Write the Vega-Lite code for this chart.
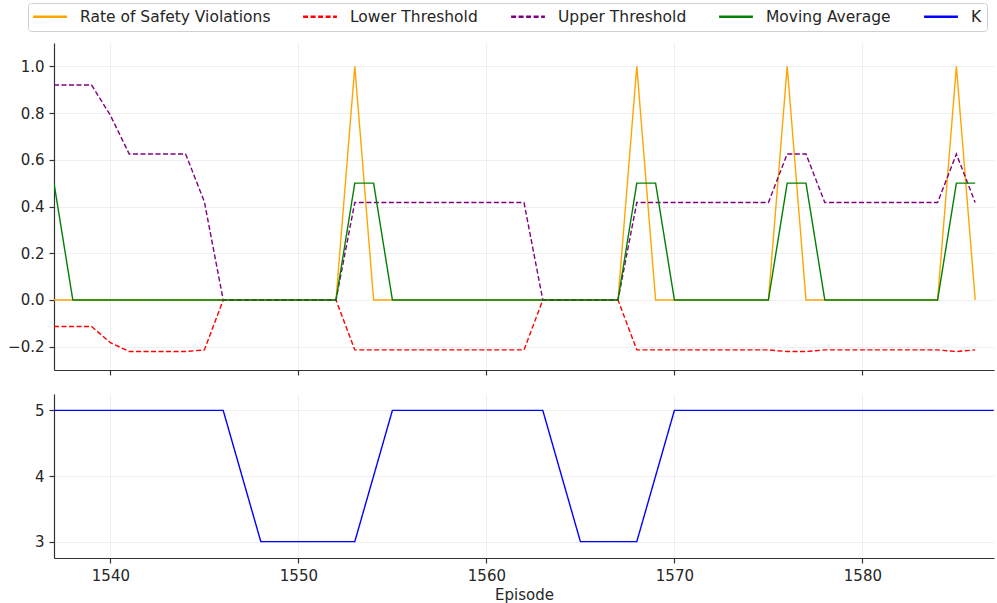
{
  "$schema": "https://vega.github.io/schema/vega-lite/v6.json",
  "background": "white",
  "padding": {"left": 7, "top": 2, "right": 4, "bottom": 2},
  "config": {
    "font": "DejaVu Sans",
    "view": {"stroke": null},
    "axis": {
      "domainColor": "#333333", "domainWidth": 1.2,
      "tickColor": "#333333", "tickSize": 5, "tickWidth": 1.2,
      "labelColor": "#262626", "labelFont": "DejaVu Sans", "labelFontSize": 15, "labelPadding": 5,
      "gridColor": "#ebebeb", "gridWidth": 0.8,
      "titleFont": "DejaVu Sans", "titleFontSize": 15, "titleFontWeight": "normal", "titleColor": "#262626"
    },
    "legend": {
      "orient": "none", "legendX": -26, "legendY": -40,
      "direction": "horizontal", "columns": 5, "columnPadding": 27,
      "symbolType": "M-2.6,0H2.6", "symbolSize": 169, "symbolStrokeWidth": 2.5, "symbolOffset": 8.5,
      "labelFont": "DejaVu Sans", "labelFontSize": 15.5, "labelColor": "#262626", "labelOffset": 22, "labelLimit": 400,
      "padding": 5.5, "strokeColor": "#d0d0d0", "fillColor": "white", "cornerRadius": 3
    }
  },
  "datasets": {
    "d": [
      {"Episode": 1537, "Rate of Safety Violations": 0, "Lower Threshold": -0.114, "Upper Threshold": 0.92, "Moving Average": 0.5, "K": 5},
      {"Episode": 1538, "Rate of Safety Violations": 0, "Lower Threshold": -0.114, "Upper Threshold": 0.92, "Moving Average": 0, "K": 5},
      {"Episode": 1539, "Rate of Safety Violations": 0, "Lower Threshold": -0.114, "Upper Threshold": 0.92, "Moving Average": 0, "K": 5},
      {"Episode": 1540, "Rate of Safety Violations": 0, "Lower Threshold": -0.183, "Upper Threshold": 0.79, "Moving Average": 0, "K": 5},
      {"Episode": 1541, "Rate of Safety Violations": 0, "Lower Threshold": -0.221, "Upper Threshold": 0.625, "Moving Average": 0, "K": 5},
      {"Episode": 1542, "Rate of Safety Violations": 0, "Lower Threshold": -0.221, "Upper Threshold": 0.625, "Moving Average": 0, "K": 5},
      {"Episode": 1543, "Rate of Safety Violations": 0, "Lower Threshold": -0.221, "Upper Threshold": 0.625, "Moving Average": 0, "K": 5},
      {"Episode": 1544, "Rate of Safety Violations": 0, "Lower Threshold": -0.221, "Upper Threshold": 0.625, "Moving Average": 0, "K": 5},
      {"Episode": 1545, "Rate of Safety Violations": 0, "Lower Threshold": -0.214, "Upper Threshold": 0.42, "Moving Average": 0, "K": 5},
      {"Episode": 1546, "Rate of Safety Violations": 0, "Lower Threshold": 0, "Upper Threshold": 0, "Moving Average": 0, "K": 5},
      {"Episode": 1547, "Rate of Safety Violations": 0, "Lower Threshold": 0, "Upper Threshold": 0, "Moving Average": 0, "K": 4},
      {"Episode": 1548, "Rate of Safety Violations": 0, "Lower Threshold": 0, "Upper Threshold": 0, "Moving Average": 0, "K": 3},
      {"Episode": 1549, "Rate of Safety Violations": 0, "Lower Threshold": 0, "Upper Threshold": 0, "Moving Average": 0, "K": 3},
      {"Episode": 1550, "Rate of Safety Violations": 0, "Lower Threshold": 0, "Upper Threshold": 0, "Moving Average": 0, "K": 3},
      {"Episode": 1551, "Rate of Safety Violations": 0, "Lower Threshold": 0, "Upper Threshold": 0, "Moving Average": 0, "K": 3},
      {"Episode": 1552, "Rate of Safety Violations": 0, "Lower Threshold": 0, "Upper Threshold": 0, "Moving Average": 0, "K": 3},
      {"Episode": 1553, "Rate of Safety Violations": 1, "Lower Threshold": -0.214, "Upper Threshold": 0.417, "Moving Average": 0.5, "K": 3},
      {"Episode": 1554, "Rate of Safety Violations": 0, "Lower Threshold": -0.214, "Upper Threshold": 0.417, "Moving Average": 0.5, "K": 4},
      {"Episode": 1555, "Rate of Safety Violations": 0, "Lower Threshold": -0.214, "Upper Threshold": 0.417, "Moving Average": 0, "K": 5},
      {"Episode": 1556, "Rate of Safety Violations": 0, "Lower Threshold": -0.214, "Upper Threshold": 0.417, "Moving Average": 0, "K": 5},
      {"Episode": 1557, "Rate of Safety Violations": 0, "Lower Threshold": -0.214, "Upper Threshold": 0.417, "Moving Average": 0, "K": 5},
      {"Episode": 1558, "Rate of Safety Violations": 0, "Lower Threshold": -0.214, "Upper Threshold": 0.417, "Moving Average": 0, "K": 5},
      {"Episode": 1559, "Rate of Safety Violations": 0, "Lower Threshold": -0.214, "Upper Threshold": 0.417, "Moving Average": 0, "K": 5},
      {"Episode": 1560, "Rate of Safety Violations": 0, "Lower Threshold": -0.214, "Upper Threshold": 0.417, "Moving Average": 0, "K": 5},
      {"Episode": 1561, "Rate of Safety Violations": 0, "Lower Threshold": -0.214, "Upper Threshold": 0.417, "Moving Average": 0, "K": 5},
      {"Episode": 1562, "Rate of Safety Violations": 0, "Lower Threshold": -0.214, "Upper Threshold": 0.417, "Moving Average": 0, "K": 5},
      {"Episode": 1563, "Rate of Safety Violations": 0, "Lower Threshold": 0, "Upper Threshold": 0, "Moving Average": 0, "K": 5},
      {"Episode": 1564, "Rate of Safety Violations": 0, "Lower Threshold": 0, "Upper Threshold": 0, "Moving Average": 0, "K": 4},
      {"Episode": 1565, "Rate of Safety Violations": 0, "Lower Threshold": 0, "Upper Threshold": 0, "Moving Average": 0, "K": 3},
      {"Episode": 1566, "Rate of Safety Violations": 0, "Lower Threshold": 0, "Upper Threshold": 0, "Moving Average": 0, "K": 3},
      {"Episode": 1567, "Rate of Safety Violations": 0, "Lower Threshold": 0, "Upper Threshold": 0, "Moving Average": 0, "K": 3},
      {"Episode": 1568, "Rate of Safety Violations": 1, "Lower Threshold": -0.214, "Upper Threshold": 0.417, "Moving Average": 0.5, "K": 3},
      {"Episode": 1569, "Rate of Safety Violations": 0, "Lower Threshold": -0.214, "Upper Threshold": 0.417, "Moving Average": 0.5, "K": 4},
      {"Episode": 1570, "Rate of Safety Violations": 0, "Lower Threshold": -0.214, "Upper Threshold": 0.417, "Moving Average": 0, "K": 5},
      {"Episode": 1571, "Rate of Safety Violations": 0, "Lower Threshold": -0.214, "Upper Threshold": 0.417, "Moving Average": 0, "K": 5},
      {"Episode": 1572, "Rate of Safety Violations": 0, "Lower Threshold": -0.214, "Upper Threshold": 0.417, "Moving Average": 0, "K": 5},
      {"Episode": 1573, "Rate of Safety Violations": 0, "Lower Threshold": -0.214, "Upper Threshold": 0.417, "Moving Average": 0, "K": 5},
      {"Episode": 1574, "Rate of Safety Violations": 0, "Lower Threshold": -0.214, "Upper Threshold": 0.417, "Moving Average": 0, "K": 5},
      {"Episode": 1575, "Rate of Safety Violations": 0, "Lower Threshold": -0.214, "Upper Threshold": 0.417, "Moving Average": 0, "K": 5},
      {"Episode": 1576, "Rate of Safety Violations": 1, "Lower Threshold": -0.221, "Upper Threshold": 0.625, "Moving Average": 0.5, "K": 5},
      {"Episode": 1577, "Rate of Safety Violations": 0, "Lower Threshold": -0.221, "Upper Threshold": 0.625, "Moving Average": 0.5, "K": 5},
      {"Episode": 1578, "Rate of Safety Violations": 0, "Lower Threshold": -0.214, "Upper Threshold": 0.417, "Moving Average": 0, "K": 5},
      {"Episode": 1579, "Rate of Safety Violations": 0, "Lower Threshold": -0.214, "Upper Threshold": 0.417, "Moving Average": 0, "K": 5},
      {"Episode": 1580, "Rate of Safety Violations": 0, "Lower Threshold": -0.214, "Upper Threshold": 0.417, "Moving Average": 0, "K": 5},
      {"Episode": 1581, "Rate of Safety Violations": 0, "Lower Threshold": -0.214, "Upper Threshold": 0.417, "Moving Average": 0, "K": 5},
      {"Episode": 1582, "Rate of Safety Violations": 0, "Lower Threshold": -0.214, "Upper Threshold": 0.417, "Moving Average": 0, "K": 5},
      {"Episode": 1583, "Rate of Safety Violations": 0, "Lower Threshold": -0.214, "Upper Threshold": 0.417, "Moving Average": 0, "K": 5},
      {"Episode": 1584, "Rate of Safety Violations": 0, "Lower Threshold": -0.214, "Upper Threshold": 0.417, "Moving Average": 0, "K": 5},
      {"Episode": 1585, "Rate of Safety Violations": 1, "Lower Threshold": -0.221, "Upper Threshold": 0.625, "Moving Average": 0.5, "K": 5},
      {"Episode": 1586, "Rate of Safety Violations": 0, "Lower Threshold": -0.214, "Upper Threshold": 0.417, "Moving Average": 0.5, "K": 5},
      {"Episode": 1587, "K": 5}
    ]
  },
  "data": {"name": "d"},
  "transform": [
    {"fold": ["Rate of Safety Violations", "Lower Threshold", "Upper Threshold", "Moving Average", "K"], "as": ["series", "value"]},
    {"filter": "isValid(datum.value)"}
  ],
  "bounds": "flush",
  "spacing": 24,
  "vconcat": [
    {
      "width": 940,
      "height": 327,
      "transform": [{"filter": "datum.series != 'K'"}],
      "mark": {"type": "line", "strokeWidth": 1.4, "clip": true},
      "encoding": {
        "x": {"field": "Episode", "type": "quantitative",
              "scale": {"domain": [1537, 1587], "nice": false, "zero": false},
              "axis": {"labels": false, "title": null, "values": [1540, 1550, 1560, 1570, 1580]}},
        "y": {"field": "value", "type": "quantitative",
              "scale": {"domain": [-0.3, 1.1], "nice": false, "zero": false},
              "axis": {"values": [-0.2, 0, 0.2, 0.4, 0.6, 0.8, 1.0], "format": ".1f", "title": null}},
        "color": {"field": "series", "type": "nominal",
                  "scale": {"domain": ["Rate of Safety Violations", "Lower Threshold", "Upper Threshold", "Moving Average", "K"],
                            "range": ["#ffa500", "#ff0000", "#800080", "#008000", "#0000ff"]},
                  "legend": {"title": null}},
        "strokeDash": {"field": "series", "type": "nominal",
                  "scale": {"domain": ["Rate of Safety Violations", "Lower Threshold", "Upper Threshold", "Moving Average", "K"],
                            "range": [[1, 0], [5, 2.5], [5, 2.5], [1, 0], [1, 0]]},
                  "legend": {"title": null}}
      }
    },
    {
      "width": 940,
      "height": 164,
      "transform": [{"filter": "datum.series == 'K'"}],
      "mark": {"type": "line", "strokeWidth": 1.4, "clip": true},
      "encoding": {
        "x": {"field": "Episode", "type": "quantitative",
              "scale": {"domain": [1537, 1587], "nice": false, "zero": false},
              "axis": {"title": "Episode", "values": [1540, 1550, 1560, 1570, 1580], "format": "d", "titlePadding": 4}},
        "y": {"field": "value", "type": "quantitative",
              "scale": {"domain": [2.75, 5.25], "nice": false, "zero": false},
              "axis": {"values": [3, 4, 5], "format": "d", "title": null}},
        "color": {"field": "series", "type": "nominal",
                  "scale": {"domain": ["Rate of Safety Violations", "Lower Threshold", "Upper Threshold", "Moving Average", "K"],
                            "range": ["#ffa500", "#ff0000", "#800080", "#008000", "#0000ff"]},
                  "legend": {"title": null}},
        "strokeDash": {"field": "series", "type": "nominal",
                  "scale": {"domain": ["Rate of Safety Violations", "Lower Threshold", "Upper Threshold", "Moving Average", "K"],
                            "range": [[1, 0], [5, 2.5], [5, 2.5], [1, 0], [1, 0]]},
                  "legend": {"title": null}}
      }
    }
  ]
}
